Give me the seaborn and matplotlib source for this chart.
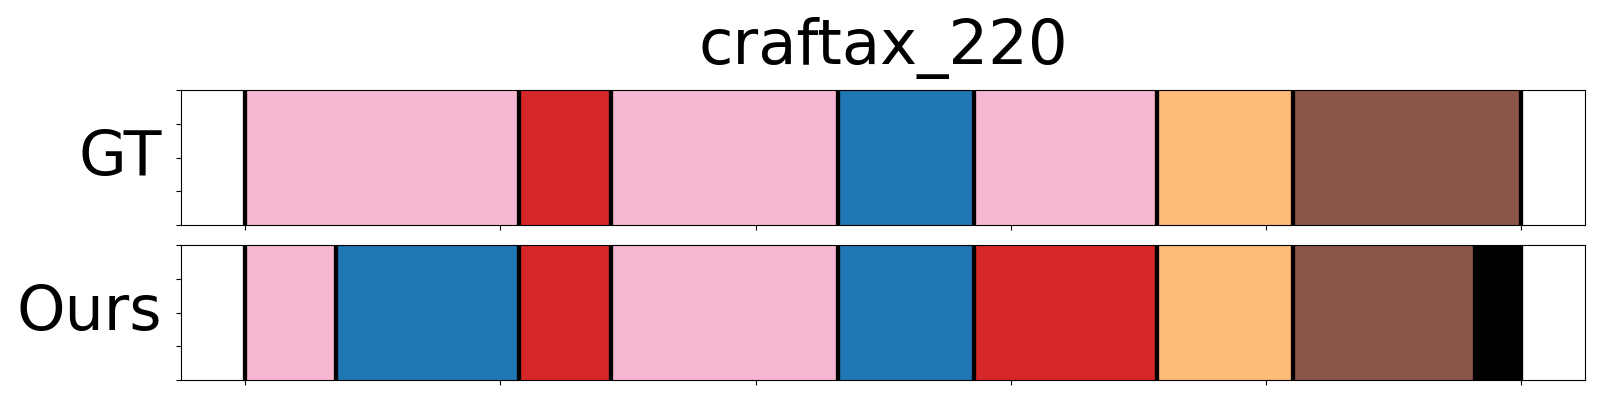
import numpy as np
import pandas as pd
import matplotlib
matplotlib.use("Agg")
import matplotlib.pyplot as plt
import seaborn as sns

# ---- data ----
title = "craftax_220"
row_names = ["GT", "Ours"]
gt_bounds = [0, 53.7, 71.6, 116.2, 142.8, 178.7, 205.3, 250]
gt_labels = ["c13", "c6", "c13", "c0", "c13", "c3", "c10"]
ours_bounds = [0, 17.9, 53.7, 71.6, 116.2, 142.8, 178.7, 205.3, 240.9, 250]
ours_labels = ["c13", "c0", "c6", "c13", "c0", "c6", "c3", "c10", "bg"]
class_colors = {"c0": "#1f77b4", "c3": "#ffbb78", "c6": "#d62728",
                "c10": "#8c564b", "c13": "#f7b6d2", "bg": "#000000"}
x_ticks = [0, 50, 100, 150, 200, 250]
y_ticks = [0, 0.25, 0.5, 0.75, 1.0]

sns.set_style("ticks", {"axes.edgecolor": "black", "xtick.color": "black",
                        "ytick.color": "black", "text.color": "black",
                        "axes.labelcolor": "black"})
plt.rcParams["font.family"] = ["DejaVu Sans"]

fig, axes = plt.subplots(2, 1, figsize=(16, 4), dpi=100)
fig.subplots_adjust(left=0.1133, right=0.9908, top=0.774, bottom=0.05, hspace=0.151)

rows = [(gt_bounds, gt_labels), (ours_bounds, ours_labels)]
for ax, name, (bounds, labels) in zip(axes, row_names, rows):
    b = [float(v) for v in bounds]
    mids = [(b[i] + b[i + 1]) / 2 for i in range(len(b) - 1)]
    df = pd.DataFrame({"mid": mids, "w": 1.0, "cls": labels})
    sns.histplot(data=df, x="mid", weights="w", bins=b, hue="cls",
                 palette=class_colors, multiple="layer", alpha=1.0,
                 linewidth=0, legend=False, ax=ax)
    for xb in b:
        ax.axvline(xb, color="black", lw=3.1, zorder=3)
    span = b[-1] - b[0]
    ax.set_xlim(b[0] - 0.05 * span, b[-1] + 0.05 * span)
    ax.set_ylim(0, 1)
    ax.set_xticks(x_ticks)
    ax.set_yticks(y_ticks)
    ax.tick_params(labelleft=False, labelbottom=False)
    ax.set_xlabel("")
    ax.set_ylabel(name, fontsize=44.5, rotation=0, ha="right", va="center",
                  labelpad=10.5, color="black")
    for s in ax.spines.values():
        s.set_visible(True)
        s.set_color("black")

axes[0].set_title(title, fontsize=45, pad=19, color="black")

fig.savefig("out.png", dpi=100)
